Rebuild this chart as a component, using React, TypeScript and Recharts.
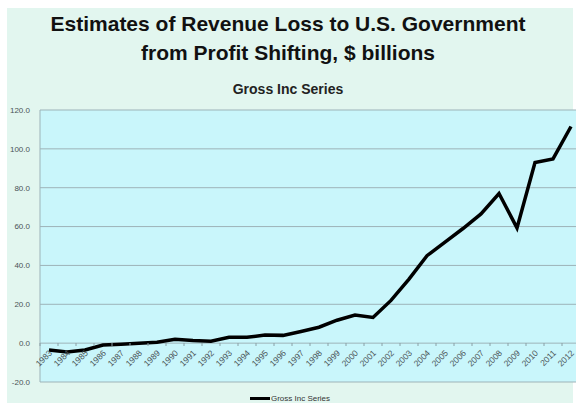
import { CartesianGrid, Legend, Line, LineChart, XAxis, YAxis } from "recharts";

const YEARS = [
  "1983", "1984", "1985", "1986", "1987", "1988", "1989", "1990", "1991", "1992",
  "1993", "1994", "1995", "1996", "1997", "1998", "1999", "2000", "2001", "2002",
  "2003", "2004", "2005", "2006", "2007", "2008", "2009", "2010", "2011", "2012",
];

const GROSS_INC = [
  -3.5, -4.5, -3.5, -1.0, -0.6, -0.1, 0.5, 2.0, 1.3, 1.0,
  3.0, 3.0, 4.2, 4.0, 6.0, 8.2, 11.8, 14.5, 13.2, 22.0,
  33.0, 45.0, 52.0, 59.0, 66.5, 77.0, 59.3, 93.0, 94.8, 111.5,
];

const Y_TICKS = [-20, 0, 20, 40, 60, 80, 100, 120];

const data = YEARS.map((year, i) => ({ year, value: GROSS_INC[i] }));

// Excel puts the category axis on the zero line, so shift the labels up from the plot bottom
const ZERO_OFFSET = 39;

function YearTick(props: any) {
  const { x, y, payload } = props;
  const zy = y - ZERO_OFFSET;
  const tx = x + 2;
  const ty = zy + 9;
  return (
    <g>
      <line x1={x - 9} x2={x - 9} y1={zy} y2={zy + 3} stroke="#8aa0a6" />
      <text
        x={tx}
        y={ty}
        textAnchor="end"
        fontSize={8.5}
        fill="#4a5356"
        fontFamily="Liberation Sans, Arial, sans-serif"
        transform={`rotate(-45 ${tx} ${ty})`}
        dominantBaseline="middle"
      >
        {payload.value}
      </text>
    </g>
  );
}

function LegendContent() {
  return (
    <div
      style={{
        display: "flex",
        justifyContent: "center",
        alignItems: "center",
        height: 20,
        paddingTop: 11,
        boxSizing: "border-box",
        fontFamily: "Liberation Sans, Arial, sans-serif",
        fontSize: 8,
        color: "#333",
      }}
    >
      <span style={{ display: "inline-block", width: 20, height: 3, background: "#000", marginRight: 1 }} />
      Gross Inc Series
    </div>
  );
}

export default function App() {
  return (
    <div
      style={{
        position: "absolute",
        left: 0,
        top: 0,
        width: 576,
        height: 403,
        overflow: "hidden",
        background: "#ffffff",
      }}
    >
      <div
        style={{
          position: "absolute",
          left: 7,
          top: 8,
          width: 566,
          height: 395,
          background: "#e2f6ef",
        }}
      />
      <div
        style={{
          position: "absolute",
          left: 0,
          top: 9,
          width: 576,
          textAlign: "center",
          fontFamily: "Liberation Sans, Arial, sans-serif",
          fontWeight: "bold",
          fontSize: 21,
          lineHeight: "29px",
          color: "#111",
        }}
      >
        Estimates of Revenue Loss to U.S. Government
        <br />
        from Profit Shifting, $ billions
      </div>
      <div
        style={{
          position: "absolute",
          left: 0,
          top: 81,
          width: 576,
          textAlign: "center",
          fontFamily: "Liberation Sans, Arial, sans-serif",
          fontWeight: "bold",
          fontSize: 14,
          color: "#222",
        }}
      >
        Gross Inc Series
      </div>
      <div style={{ position: "absolute", left: 0, top: 0 }}>
        <LineChart
          width={590}
          height={403}
          data={data}
          margin={{ top: 110, right: 10, bottom: 0, left: 0 }}
        >
          <CartesianGrid vertical={false} stroke="#9db3b8" fill="#c9f6fb" fillOpacity={1} />
          <XAxis
            dataKey="year"
            axisLine={false}
            tickLine={false}
            tickSize={0}
            tickMargin={0}
            height={1}
            interval={0}
            padding={{ left: 9, right: 9 }}
            tick={<YearTick />}
          />
          <YAxis
            domain={[-20, 120]}
            ticks={Y_TICKS}
            width={40}
            axisLine={{ stroke: "#9db3b8" }}
            tickLine={false}
            tickMargin={4}
            tickFormatter={(v: number) => v.toFixed(1)}
            tick={{ fontSize: 8, fill: "#4a5356", fontFamily: "Liberation Sans, Arial, sans-serif" }}
          />
          <Legend verticalAlign="bottom" height={20} content={<LegendContent />} />
          <Line
            type="linear"
            dataKey="value"
            name="Gross Inc Series"
            stroke="#000"
            strokeWidth={3.5}
            dot={false}
            isAnimationActive={false}
          />
        </LineChart>
      </div>
    </div>
  );
}
